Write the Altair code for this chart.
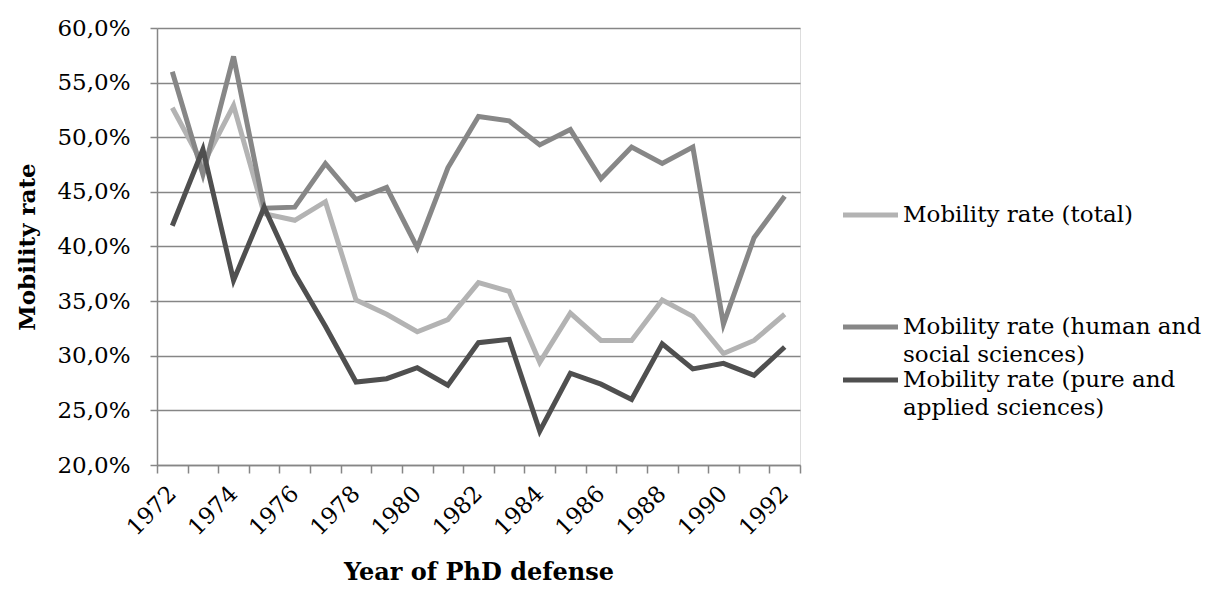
import altair as alt
import pandas as pd

years = [str(y) for y in range(1972, 1993)]
total = [52.7, 47.5, 52.9, 43.0, 42.4, 44.1, 35.1, 33.8, 32.2, 33.3, 36.7,
         35.9, 29.4, 33.9, 31.4, 31.4, 35.1, 33.6, 30.2, 31.4, 33.8]
human = [56.0, 46.6, 57.4, 43.5, 43.6, 47.6, 44.3, 45.4, 39.9, 47.2, 51.9,
         51.5, 49.3, 50.7, 46.2, 49.1, 47.6, 49.1, 32.9, 40.8, 44.6]
pure = [41.9, 48.9, 36.9, 43.6, 37.5, 32.7, 27.6, 27.9, 28.9, 27.3, 31.2,
        31.5, 23.1, 28.4, 27.4, 26.0, 31.1, 28.8, 29.3, 28.2, 30.8]
series_names = ["Mobility rate (total)",
                "Mobility rate (human and social sciences)",
                "Mobility rate (pure and applied sciences)"]
legend_labels = ["Mobility rate (total)",
                 "Mobility rate (human and\nsocial sciences)",
                 "Mobility rate (pure and\napplied sciences)"]
colors = ["#b3b3b3", "#878787", "#4f4f4f"]
y_ticks = [0.20, 0.25, 0.30, 0.35, 0.40, 0.45, 0.50, 0.55, 0.60]

FONT = "DejaVu Serif"
W, H = 643, 437
FS = 23

frames = []
for name, vals in zip(series_names, [total, human, pure]):
    frames.append(pd.DataFrame({"year": years, "series": name,
                                "value": [v / 100 for v in vals]}))

x_enc = alt.X("year:O", sort=years,
              scale=alt.Scale(paddingInner=0, paddingOuter=0, type="band"),
              axis=alt.Axis(title="Year of PhD defense", labelAngle=-45,
                            labelAlign="right", labelBaseline="top",
                            labelExpr="toNumber(datum.value) % 2 == 0 ? datum.label : ''",
                            tickBand="extent", tickSize=8, tickColor="#868686",
                            tickWidth=1.5, domainColor="#868686", domainWidth=1.5,
                            labelFont=FONT, labelFontSize=FS, labelColor="#000",
                            labelPadding=9, labelOffset=-8,
                            titleFont=FONT, titleFontSize=24,
                            titleFontWeight="bold", titleColor="#000",
                            titlePadding=21, grid=False, labelOverlap=False))
y_enc = alt.Y("value:Q",
              scale=alt.Scale(domain=[0.2, 0.6], nice=False, zero=False),
              axis=alt.Axis(title="Mobility rate", values=y_ticks,
                            labelExpr="replace(format(datum.value, '.1%'), '.', ',')",
                            grid=True, gridColor="#868686", gridWidth=1.5,
                            tickSize=7, tickColor="#868686", tickWidth=1.5,
                            domainColor="#868686", domainWidth=1.5,
                            labelFont=FONT, labelFontSize=FS, labelColor="#000",
                            labelPadding=20, titleFont=FONT, titleFontSize=23,
                            titleFontWeight="bold", titleColor="#000",
                            titlePadding=17))

layers = []
for df, c in zip(frames, colors):
    layers.append(alt.Chart(df).mark_line(color=c, strokeWidth=5,
                                          strokeJoin="miter", clip=False)
                  .encode(x=x_enc, y=y_enc))

legend_y = [187, 299, 352]
for lab, c, ly in zip(legend_labels, colors, legend_y):
    ldf = pd.DataFrame({"label": [lab]})
    layers.append(alt.Chart(ldf).mark_rule(color=c, strokeWidth=5).encode(
        x=alt.value(686), x2=alt.value(741), y=alt.value(ly)))
    layers.append(alt.Chart(ldf).mark_text(align="left", baseline="middle",
                                           font=FONT, fontSize=FS, color="#000",
                                           lineBreak="\n", lineHeight=28).encode(
        x=alt.value(746), y=alt.value(ly), text="label:N"))

chart = alt.layer(*layers).properties(
    width=W, height=H,
    autosize=alt.AutoSizeParams(type="none"),
    padding={"left": 149, "top": 20, "right": 410, "bottom": 121},
).configure_view(stroke=None).configure(background="white")

chart.save("out.html", embed_options={"renderer": "svg", "actions": False})
